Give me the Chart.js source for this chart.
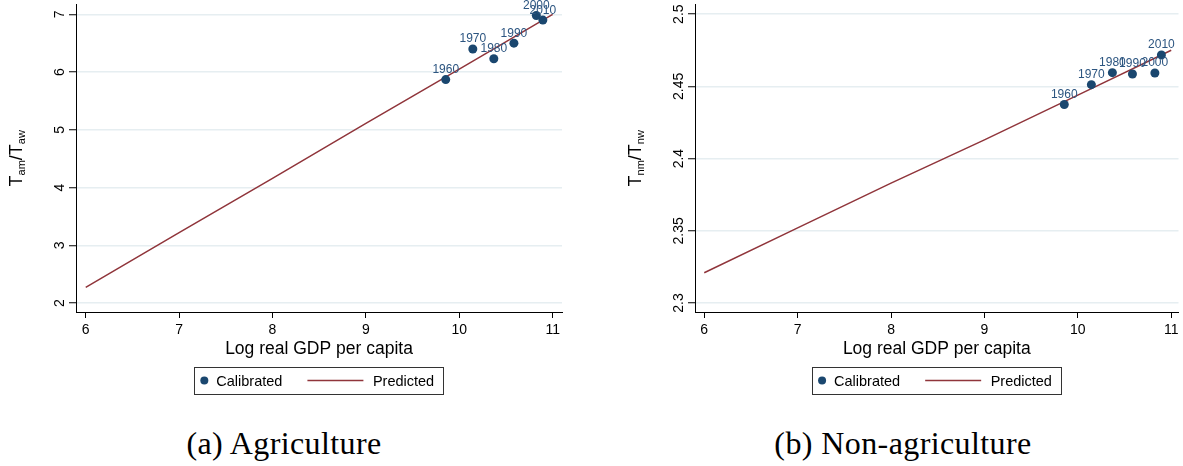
<!DOCTYPE html>
<html>
<head>
<meta charset="utf-8">
<script src="https://cdn.jsdelivr.net/npm/chart.js@4.4.1/dist/chart.umd.min.js"></script>
<style>
  body { margin: 0; background: #fff; width: 1183px; height: 466px; overflow: hidden; position: relative; }
  .panel { position: absolute; top: 0; height: 400px; }
  .caption { position: absolute; top: 428px; font-family: "Liberation Serif", "DejaVu Serif", serif;
             font-size: 32px; line-height: 31px; letter-spacing: 0.4px; color: #000;
             transform: translateX(-50%); white-space: nowrap; }
</style>
</head>
<body>
<div class="panel" style="left:0;width:590px"><canvas id="agri" width="590" height="400"></canvas></div>
<div class="panel" style="left:590px;width:593px"><canvas id="nonagri" width="593" height="400"></canvas></div>
<div class="caption" style="left:284px">(a) Agriculture</div>
<div class="caption" style="left:903px">(b) Non-agriculture</div>

<script>
// data
var years = ['1960', '1970', '1980', '1990', '2000', '2010'];
var gdp = [9.855, 10.145, 10.37, 10.585, 10.825, 10.895];
var agriCalibrated = [5.87, 6.40, 6.23, 6.50, 6.98, 6.90];
var nonCalibrated = [2.4375, 2.4512, 2.4595, 2.4586, 2.4593, 2.4718];
var predGdp = [6, 7, 8, 9, 10, 11];
var agriPredicted = [2.27, 3.22, 4.16, 5.11, 6.05, 7.00];
var nonPredicted = [2.321, 2.352, 2.383, 2.413, 2.444, 2.475];
var xTicks = [6, 7, 8, 9, 10, 11];
var agriYTicks = [2, 3, 4, 5, 6, 7];
var agriYLabels = ['2', '3', '4', '5', '6', '7'];
var nonYTicks = [2.3, 2.35, 2.4, 2.45, 2.5];
var nonYLabels = ['2.3', '2.35', '2.4', '2.45', '2.5'];
var xTitle = 'Log real GDP per capita';
var seriesNames = ['Calibrated', 'Predicted'];

var FONT = '"Liberation Sans", Arial, sans-serif';
var NAVY = '#1a476f';
var MAROON = '#90353b';

function points(xs, ys) {
    return xs.map(function (x, i) { return { x: x, y: ys[i] }; });
}

// year labels above the calibrated markers
var yearLabels = {
    id: 'yearLabels',
    afterDatasetsDraw: function (chart) {
        var ctx = chart.ctx;
        ctx.save();
        ctx.font = '12px ' + FONT;
        ctx.fillStyle = '#2c5580';
        ctx.textAlign = 'center';
        ctx.textBaseline = 'alphabetic';
        chart.getDatasetMeta(0).data.forEach(function (pt, i) {
            ctx.fillText(years[i], pt.x, pt.y - 6.5);
        });
        ctx.restore();
    }
};

// vertical y tick labels, y title with subscripts, boxed legend
var decorations = {
    id: 'decorations',
    afterDraw: function (chart) {
        var ctx = chart.ctx;
        var area = chart.chartArea;
        var ys = chart.scales.y;
        var opts = chart.options.plugins.decorations;
        ctx.save();

        ctx.fillStyle = '#000';
        ctx.font = '14px ' + FONT;
        ctx.textAlign = 'center';
        ctx.textBaseline = 'alphabetic';
        ys.ticks.forEach(function (t, i) {
            var py = ys.getPixelForValue(t.value);
            ctx.save();
            ctx.translate(area.left - 12.5, py);
            ctx.rotate(-Math.PI / 2);
            ctx.fillText(opts.yLabels[i], 0, 0);
            ctx.restore();
        });

        // y title
        var parts = opts.yTitle;
        var big = '18px ' + FONT, small = '11px ' + FONT;
        var total = 0;
        parts.forEach(function (p) {
            ctx.font = p.sub ? small : big;
            total += ctx.measureText(p.text).width;
        });
        ctx.save();
        ctx.translate(area.left - 54, (area.top + area.bottom) / 2);
        ctx.rotate(-Math.PI / 2);
        ctx.textAlign = 'left';
        var pos = -total / 2;
        parts.forEach(function (p) {
            ctx.font = p.sub ? small : big;
            ctx.fillText(p.text, pos, p.sub ? 3 : 0);
            pos += ctx.measureText(p.text).width;
        });
        ctx.restore();

        // legend
        ctx.font = '14.5px ' + FONT;
        ctx.textAlign = 'left';
        ctx.textBaseline = 'middle';
        var ds = chart.data.datasets;
        var w1 = ctx.measureText(ds[0].label).width;
        var w2 = ctx.measureText(ds[1].label).width;
        var boxW = 10 + 12 + w1 + 25 + 56 + 9.5 + w2 + 9.5;
        var bx = (area.left + area.right) / 2 - boxW / 2;
        var by = 367, bh = 27, cy = by + bh / 2;
        ctx.strokeStyle = '#333';
        ctx.lineWidth = 1;
        ctx.strokeRect(Math.round(bx) + 0.5, by + 0.5, Math.round(boxW), bh);
        ctx.fillStyle = ds[0].backgroundColor;
        ctx.beginPath();
        ctx.arc(bx + 10, cy, 4, 0, Math.PI * 2);
        ctx.fill();
        ctx.fillStyle = '#000';
        ctx.fillText(ds[0].label, bx + 22, cy + 1);
        var lx = bx + 22 + w1 + 25;
        ctx.strokeStyle = ds[1].borderColor;
        ctx.lineWidth = 1.5;
        ctx.beginPath();
        ctx.moveTo(lx, cy);
        ctx.lineTo(lx + 56, cy);
        ctx.stroke();
        ctx.fillText(ds[1].label, lx + 56 + 9.5, cy + 1);

        ctx.restore();
    }
};

function makeChart(id, o) {
    var canvas = document.getElementById(id);
    return new Chart(canvas, {
        type: 'scatter',
        data: {
            datasets: [{
                label: seriesNames[0],
                data: points(gdp, o.calibrated),
                backgroundColor: NAVY,
                borderWidth: 0,
                pointRadius: 4.5,
                pointHoverRadius: 4.5
            }, {
                label: seriesNames[1],
                data: points(predGdp, o.predicted),
                showLine: true,
                borderColor: MAROON,
                borderWidth: 1.5,
                pointRadius: 0,
                pointHoverRadius: 0
            }]
        },
        options: {
            responsive: false,
            animation: false,
            events: [],
            layout: { padding: { left: 0, top: 2, right: canvas.width - o.plotRight, bottom: 400 - 312 - 48 } },
            plugins: {
                legend: { display: false },
                tooltip: { enabled: false },
                decorations: { yTitle: o.yTitle, yLabels: o.yLabels }
            },
            scales: {
                x: {
                    type: 'linear',
                    min: o.xMin,
                    max: o.xMax,
                    afterBuildTicks: function (s) { s.ticks = xTicks.map(function (v) { return { value: v }; }); },
                    afterFit: function (s) { s.height = 48; },
                    ticks: { color: '#000', font: { family: FONT, size: 14 }, padding: 4, maxRotation: 0 },
                    grid: { drawOnChartArea: false, drawTicks: true, tickLength: 6, tickColor: '#000', tickWidth: 1 },
                    border: { color: '#000', width: 1 },
                    title: { display: true, text: xTitle, color: '#000', font: { family: FONT, size: 17.5 }, padding: 0 }
                },
                y: {
                    type: 'linear',
                    min: o.yMin,
                    max: o.yMax,
                    afterBuildTicks: function (s) { s.ticks = o.yTicks.map(function (v) { return { value: v }; }); },
                    afterFit: function (s) { s.width = o.plotLeft; },
                    ticks: { display: false },
                    grid: { color: '#e6eef1', lineWidth: 1.5, drawTicks: true, tickLength: 7, tickColor: '#000', tickWidth: 1 },
                    border: { color: '#000', width: 1 }
                }
            }
        },
        plugins: [yearLabels, decorations]
    });
}

makeChart('agri', {
    calibrated: agriCalibrated,
    predicted: agriPredicted,
    yTicks: agriYTicks,
    yLabels: agriYLabels,
    xMin: 5.896, xMax: 11.10,
    yMin: 1.845, yMax: 7.17,
    plotLeft: 76, plotRight: 562,
    yTitle: [{ text: 'T' }, { text: 'am', sub: true }, { text: '/T' }, { text: 'aw', sub: true }]
});

makeChart('nonagri', {
    calibrated: nonCalibrated,
    predicted: nonPredicted,
    yTicks: nonYTicks,
    yLabels: nonYLabels,
    xMin: 5.901, xMax: 11.078,
    yMin: 2.2938, yMax: 2.5067,
    plotLeft: 105, plotRight: 591,
    yTitle: [{ text: 'T' }, { text: 'nm', sub: true }, { text: '/T' }, { text: 'nw', sub: true }]
});
</script>
</body>
</html>
